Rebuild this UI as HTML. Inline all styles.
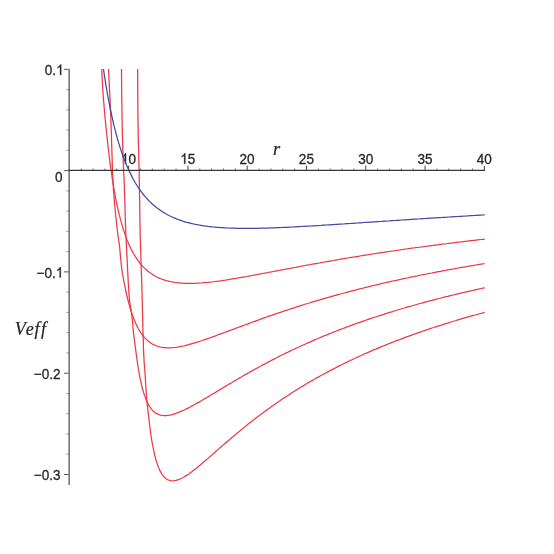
<!DOCTYPE html>
<html><head><meta charset="utf-8"><title>Veff</title>
<style>html,body{margin:0;padding:0;background:#fff;width:554px;height:554px;overflow:hidden}</style></head>
<body>
<svg width="554" height="554" viewBox="0 0 554 554" style="position:absolute;left:0;top:0;will-change:transform">
<rect width="554" height="554" fill="#fff"/>
<line x1="81.21" y1="170.4" x2="81.21" y2="168.5" stroke="#5a5a5a" stroke-width="0.9"/>
<line x1="93.06" y1="170.4" x2="93.06" y2="168.5" stroke="#5a5a5a" stroke-width="0.9"/>
<line x1="104.92" y1="170.4" x2="104.92" y2="168.5" stroke="#5a5a5a" stroke-width="0.9"/>
<line x1="116.78" y1="170.4" x2="116.78" y2="168.5" stroke="#5a5a5a" stroke-width="0.9"/>
<line x1="128.63" y1="170.4" x2="128.63" y2="165.70000000000002" stroke="#444" stroke-width="1"/>
<line x1="140.49" y1="170.4" x2="140.49" y2="168.5" stroke="#5a5a5a" stroke-width="0.9"/>
<line x1="152.35" y1="170.4" x2="152.35" y2="168.5" stroke="#5a5a5a" stroke-width="0.9"/>
<line x1="164.21" y1="170.4" x2="164.21" y2="168.5" stroke="#5a5a5a" stroke-width="0.9"/>
<line x1="176.06" y1="170.4" x2="176.06" y2="168.5" stroke="#5a5a5a" stroke-width="0.9"/>
<line x1="187.92" y1="170.4" x2="187.92" y2="165.70000000000002" stroke="#444" stroke-width="1"/>
<line x1="199.78" y1="170.4" x2="199.78" y2="168.5" stroke="#5a5a5a" stroke-width="0.9"/>
<line x1="211.63" y1="170.4" x2="211.63" y2="168.5" stroke="#5a5a5a" stroke-width="0.9"/>
<line x1="223.49" y1="170.4" x2="223.49" y2="168.5" stroke="#5a5a5a" stroke-width="0.9"/>
<line x1="235.35" y1="170.4" x2="235.35" y2="168.5" stroke="#5a5a5a" stroke-width="0.9"/>
<line x1="247.20" y1="170.4" x2="247.20" y2="165.70000000000002" stroke="#444" stroke-width="1"/>
<line x1="259.06" y1="170.4" x2="259.06" y2="168.5" stroke="#5a5a5a" stroke-width="0.9"/>
<line x1="270.92" y1="170.4" x2="270.92" y2="168.5" stroke="#5a5a5a" stroke-width="0.9"/>
<line x1="282.78" y1="170.4" x2="282.78" y2="168.5" stroke="#5a5a5a" stroke-width="0.9"/>
<line x1="294.63" y1="170.4" x2="294.63" y2="168.5" stroke="#5a5a5a" stroke-width="0.9"/>
<line x1="306.49" y1="170.4" x2="306.49" y2="165.70000000000002" stroke="#444" stroke-width="1"/>
<line x1="318.35" y1="170.4" x2="318.35" y2="168.5" stroke="#5a5a5a" stroke-width="0.9"/>
<line x1="330.20" y1="170.4" x2="330.20" y2="168.5" stroke="#5a5a5a" stroke-width="0.9"/>
<line x1="342.06" y1="170.4" x2="342.06" y2="168.5" stroke="#5a5a5a" stroke-width="0.9"/>
<line x1="353.92" y1="170.4" x2="353.92" y2="168.5" stroke="#5a5a5a" stroke-width="0.9"/>
<line x1="365.77" y1="170.4" x2="365.77" y2="165.70000000000002" stroke="#444" stroke-width="1"/>
<line x1="377.63" y1="170.4" x2="377.63" y2="168.5" stroke="#5a5a5a" stroke-width="0.9"/>
<line x1="389.49" y1="170.4" x2="389.49" y2="168.5" stroke="#5a5a5a" stroke-width="0.9"/>
<line x1="401.35" y1="170.4" x2="401.35" y2="168.5" stroke="#5a5a5a" stroke-width="0.9"/>
<line x1="413.20" y1="170.4" x2="413.20" y2="168.5" stroke="#5a5a5a" stroke-width="0.9"/>
<line x1="425.06" y1="170.4" x2="425.06" y2="165.70000000000002" stroke="#444" stroke-width="1"/>
<line x1="436.92" y1="170.4" x2="436.92" y2="168.5" stroke="#5a5a5a" stroke-width="0.9"/>
<line x1="448.77" y1="170.4" x2="448.77" y2="168.5" stroke="#5a5a5a" stroke-width="0.9"/>
<line x1="460.63" y1="170.4" x2="460.63" y2="168.5" stroke="#5a5a5a" stroke-width="0.9"/>
<line x1="472.49" y1="170.4" x2="472.49" y2="168.5" stroke="#5a5a5a" stroke-width="0.9"/>
<line x1="484.35" y1="170.4" x2="484.35" y2="165.70000000000002" stroke="#444" stroke-width="1"/>
<line x1="64" y1="69.30" x2="69" y2="69.30" stroke="#555" stroke-width="1"/>
<line x1="66.5" y1="89.56" x2="69" y2="89.56" stroke="#777" stroke-width="0.8"/>
<line x1="66.5" y1="109.82" x2="69" y2="109.82" stroke="#777" stroke-width="0.8"/>
<line x1="66.5" y1="130.08" x2="69" y2="130.08" stroke="#777" stroke-width="0.8"/>
<line x1="66.5" y1="150.34" x2="69" y2="150.34" stroke="#777" stroke-width="0.8"/>
<line x1="64" y1="170.60" x2="69" y2="170.60" stroke="#555" stroke-width="1"/>
<line x1="66.5" y1="190.86" x2="69" y2="190.86" stroke="#777" stroke-width="0.8"/>
<line x1="66.5" y1="211.12" x2="69" y2="211.12" stroke="#777" stroke-width="0.8"/>
<line x1="66.5" y1="231.38" x2="69" y2="231.38" stroke="#777" stroke-width="0.8"/>
<line x1="66.5" y1="251.64" x2="69" y2="251.64" stroke="#777" stroke-width="0.8"/>
<line x1="64" y1="271.90" x2="69" y2="271.90" stroke="#555" stroke-width="1"/>
<line x1="66.5" y1="292.16" x2="69" y2="292.16" stroke="#777" stroke-width="0.8"/>
<line x1="66.5" y1="312.42" x2="69" y2="312.42" stroke="#777" stroke-width="0.8"/>
<line x1="66.5" y1="332.68" x2="69" y2="332.68" stroke="#777" stroke-width="0.8"/>
<line x1="66.5" y1="352.94" x2="69" y2="352.94" stroke="#777" stroke-width="0.8"/>
<line x1="64" y1="373.20" x2="69" y2="373.20" stroke="#555" stroke-width="1"/>
<line x1="66.5" y1="393.46" x2="69" y2="393.46" stroke="#777" stroke-width="0.8"/>
<line x1="66.5" y1="413.72" x2="69" y2="413.72" stroke="#777" stroke-width="0.8"/>
<line x1="66.5" y1="433.98" x2="69" y2="433.98" stroke="#777" stroke-width="0.8"/>
<line x1="66.5" y1="454.24" x2="69" y2="454.24" stroke="#777" stroke-width="0.8"/>
<line x1="64" y1="474.50" x2="69" y2="474.50" stroke="#555" stroke-width="1"/>
<path transform="translate(120.99,163.80) scale(0.006630,-0.007129)" d="M763 0H583V1147Q518 1085 412.5 1023Q307 961 223 930V1104Q374 1175 487 1276Q600 1377 647 1472H763Z" fill="#262626" stroke="#262626" stroke-width="42"/>
<text transform="translate(128.53,163.80) scale(0.93,1)" style="font-family:'Liberation Sans',sans-serif;font-size:14.6px;fill:#262626;stroke:#262626;stroke-width:0.3px">0</text>
<path transform="translate(180.27,163.80) scale(0.006630,-0.007129)" d="M763 0H583V1147Q518 1085 412.5 1023Q307 961 223 930V1104Q374 1175 487 1276Q600 1377 647 1472H763Z" fill="#262626" stroke="#262626" stroke-width="42"/>
<text transform="translate(187.82,163.80) scale(0.93,1)" style="font-family:'Liberation Sans',sans-serif;font-size:14.6px;fill:#262626;stroke:#262626;stroke-width:0.3px">5</text>
<text transform="translate(239.56,163.80) scale(0.93,1)" style="font-family:'Liberation Sans',sans-serif;font-size:14.6px;fill:#262626;stroke:#262626;stroke-width:0.3px">20</text>
<text transform="translate(298.84,163.80) scale(0.93,1)" style="font-family:'Liberation Sans',sans-serif;font-size:14.6px;fill:#262626;stroke:#262626;stroke-width:0.3px">25</text>
<text transform="translate(358.13,163.80) scale(0.93,1)" style="font-family:'Liberation Sans',sans-serif;font-size:14.6px;fill:#262626;stroke:#262626;stroke-width:0.3px">30</text>
<text transform="translate(417.41,163.80) scale(0.93,1)" style="font-family:'Liberation Sans',sans-serif;font-size:14.6px;fill:#262626;stroke:#262626;stroke-width:0.3px">35</text>
<text transform="translate(476.70,163.80) scale(0.93,1)" style="font-family:'Liberation Sans',sans-serif;font-size:14.6px;fill:#262626;stroke:#262626;stroke-width:0.3px">40</text>
<text transform="translate(44.83,74.90) scale(0.93,1)" style="font-family:'Liberation Sans',sans-serif;font-size:14.6px;fill:#262626;stroke:#262626;stroke-width:0.3px">0.</text>
<path transform="translate(56.15,74.90) scale(0.006630,-0.007129)" d="M763 0H583V1147Q518 1085 412.5 1023Q307 961 223 930V1104Q374 1175 487 1276Q600 1377 647 1472H763Z" fill="#262626" stroke="#262626" stroke-width="42"/>
<text transform="translate(55.05,182.20) scale(0.93,1)" style="font-family:'Liberation Sans',sans-serif;font-size:14.6px;fill:#262626;stroke:#262626;stroke-width:0.3px">0</text>
<text transform="translate(36.50,277.60) scale(0.93,1)" style="font-family:'Liberation Sans',sans-serif;font-size:14.6px;fill:#262626;stroke:#262626;stroke-width:0.3px">−0.</text>
<path transform="translate(55.75,277.60) scale(0.006630,-0.007129)" d="M763 0H583V1147Q518 1085 412.5 1023Q307 961 223 930V1104Q374 1175 487 1276Q600 1377 647 1472H763Z" fill="#262626" stroke="#262626" stroke-width="42"/>
<text transform="translate(33.80,379.40) scale(0.93,1)" style="font-family:'Liberation Sans',sans-serif;font-size:14.6px;fill:#262626;stroke:#262626;stroke-width:0.3px">−0.2</text>
<text transform="translate(33.80,480.20) scale(0.93,1)" style="font-family:'Liberation Sans',sans-serif;font-size:14.6px;fill:#262626;stroke:#262626;stroke-width:0.3px">−0.3</text>
<text x="273.1" y="154.6" style="font-family:'Liberation Serif',serif;font-style:italic;fill:#262626;font-kerning:none;stroke:#262626;stroke-width:0.2px;font-size:18.5px">r</text>
<text transform="translate(14.8,334.6) scale(0.93,1)" style="font-family:'Liberation Serif',serif;font-style:italic;fill:#262626;font-kerning:none;stroke:#262626;stroke-width:0.2px;font-size:19.5px">Ve<tspan dx="0.7">f</tspan><tspan dx="1.4">f</tspan></text>
<path d="M101.7,69.0 L101.8,71.0 L101.9,73.0 L102.0,75.0 L102.1,77.0 L102.2,79.0 L102.3,81.0 L102.4,83.0 L102.5,85.0 L102.6,87.0 L102.8,89.0 L102.9,91.0 L103.0,93.0 L103.2,95.0 L103.3,97.0 L103.5,99.0 L103.6,101.0 L103.8,103.0 L104.0,105.0 L104.1,107.0 L104.3,109.0 L104.5,111.0 L104.7,113.0 L104.8,115.0 L105.0,117.0 L105.2,119.0 L105.4,121.0 L105.6,123.0 L105.8,125.0 L106.0,127.0 L106.2,129.0 L106.4,131.0 L106.6,133.0 L106.8,135.0 L107.1,137.0 L107.3,139.0 L107.5,141.0 L107.7,143.0 L107.9,145.0 L108.1,147.0 L108.4,149.0 L108.5,150.0 L108.7,151.8 L108.9,153.5 L109.1,155.3 L109.3,157.1 L109.6,158.9 L109.8,160.6 L110.0,162.4 L110.2,164.2 L110.5,165.9 L110.7,167.7 L111.0,169.5 L111.2,171.2 L111.5,173.0 L111.7,174.8 L112.0,176.5 L112.2,178.3 L112.5,180.1 L112.8,181.8 L113.1,183.6 L113.4,185.3 L113.7,187.1 L114.0,188.9 L114.3,190.6 L114.6,192.4 L114.9,194.1 L115.2,195.9 L115.5,197.6 L115.9,199.4 L116.2,201.1 L116.6,202.9 L117.0,204.6 L117.3,206.3 L117.7,208.1 L118.1,209.8 L118.5,211.5 L118.9,213.3 L119.3,215.0 L119.8,216.7 L120.2,218.4 L120.7,220.2 L121.1,221.9 L121.6,223.6 L122.1,225.3 L122.6,227.0 L123.1,228.7 L123.7,230.4 L124.2,232.1 L124.8,233.7 L125.4,235.4 L126.0,237.1 L126.6,238.7 L127.2,240.4 L127.9,242.0 L128.6,243.7 L129.3,245.3 L130.1,246.9 L130.8,248.5 L131.6,250.1 L132.4,251.6 L133.3,253.2 L134.2,254.7 L135.1,256.2 L136.0,257.7 L137.0,259.2 L138.0,260.6 L139.1,262.0 L140.2,263.4 L141.3,264.8 L142.5,266.1 L143.7,267.4 L145.0,268.6 L146.3,269.8 L147.6,271.0 L149.0,272.1 L150.4,273.1 L151.9,274.1 L153.4,275.1 L155.0,276.0 L156.5,276.8 L158.1,277.6 L159.8,278.3 L161.4,279.0 L163.1,279.6 L164.8,280.2 L166.5,280.7 L168.3,281.1 L170.0,281.5 L171.8,281.9 L173.5,282.2 L175.3,282.5 L177.1,282.7 L178.9,282.9 L180.7,283.1 L182.5,283.2 L184.3,283.3 L186.1,283.3 L187.9,283.4 L189.7,283.4 L191.5,283.4 L193.3,283.3 L195.1,283.3 L196.9,283.2 L198.6,283.1 L200.4,283.0 L202.2,282.9 L204.0,282.7 L205.8,282.5 L207.6,282.4 L209.4,282.2 L211.2,282.0 L213.0,281.8 L214.8,281.5 L216.6,281.3 L218.3,281.1 L220.1,280.8 L221.9,280.6 L223.7,280.3 L225.5,280.1 L227.3,279.8 L229.0,279.5 L230.8,279.2 L232.6,278.9 L234.4,278.6 L236.1,278.3 L237.9,278.0 L239.7,277.7 L241.5,277.4 L243.2,277.1 L245.0,276.8 L246.8,276.5 L248.6,276.1 L250.3,275.8 L252.1,275.5 L253.9,275.2 L255.6,274.8 L257.4,274.5 L259.2,274.2 L260.9,273.9 L262.7,273.5 L264.5,273.2 L266.2,272.9 L268.0,272.5 L269.8,272.2 L271.6,271.9 L273.3,271.5 L275.1,271.2 L276.9,270.8 L278.6,270.5 L280.4,270.2 L282.2,269.8 L283.9,269.5 L285.7,269.2 L287.5,268.8 L289.2,268.5 L291.0,268.2 L292.8,267.8 L294.5,267.5 L296.3,267.2 L298.1,266.8 L299.9,266.5 L301.6,266.2 L303.4,265.9 L305.2,265.5 L306.9,265.2 L308.7,264.9 L310.5,264.6 L312.2,264.2 L314.0,263.9 L315.8,263.6 L317.6,263.3 L319.3,263.0 L321.1,262.6 L322.9,262.3 L324.6,262.0 L326.4,261.7 L328.2,261.4 L330.0,261.1 L331.7,260.8 L333.5,260.5 L335.3,260.1 L337.1,259.8 L338.8,259.5 L340.6,259.2 L342.4,258.9 L344.2,258.6 L345.9,258.3 L347.7,258.0 L349.5,257.7 L351.3,257.4 L353.0,257.1 L354.8,256.9 L356.6,256.6 L358.4,256.3 L360.1,256.0 L361.9,255.7 L363.7,255.4 L365.5,255.1 L367.2,254.8 L369.0,254.6 L370.8,254.3 L372.6,254.0 L374.4,253.7 L376.1,253.5 L377.9,253.2 L379.7,252.9 L381.5,252.6 L383.3,252.4 L385.0,252.1 L386.8,251.8 L388.6,251.6 L390.4,251.3 L392.2,251.0 L393.9,250.8 L395.7,250.5 L397.5,250.3 L399.3,250.0 L401.1,249.7 L402.8,249.5 L404.6,249.2 L406.4,249.0 L408.2,248.7 L410.0,248.5 L411.8,248.2 L413.5,248.0 L415.3,247.7 L417.1,247.5 L418.9,247.3 L420.7,247.0 L422.5,246.8 L424.2,246.5 L426.0,246.3 L427.8,246.1 L429.6,245.8 L431.4,245.6 L433.2,245.4 L434.9,245.1 L436.7,244.9 L438.5,244.7 L440.3,244.4 L442.1,244.2 L443.9,244.0 L445.7,243.8 L447.4,243.5 L449.2,243.3 L451.0,243.1 L452.8,242.9 L454.6,242.6 L456.4,242.4 L458.2,242.2 L460.0,242.0 L461.7,241.8 L463.5,241.6 L465.3,241.4 L467.1,241.2 L468.9,240.9 L470.7,240.7 L472.5,240.5 L474.3,240.3 L476.0,240.1 L477.8,239.9 L479.6,239.7 L481.4,239.5 L483.2,239.3 L484.7,239.1" fill="none" stroke="#ec3846" stroke-width="1.25" stroke-linejoin="round"/>
<path d="M108.5,69.0 L108.6,71.0 L108.7,73.0 L108.8,75.0 L108.9,77.0 L109.0,79.0 L109.1,81.0 L109.2,83.0 L109.3,85.0 L109.4,87.0 L109.5,89.0 L109.6,91.0 L109.7,93.0 L109.8,95.0 L109.9,97.0 L110.0,99.0 L110.1,101.0 L110.2,103.0 L110.3,105.0 L110.4,107.0 L110.5,109.0 L110.5,111.0 L110.6,113.0 L110.7,115.0 L110.8,117.0 L110.9,119.0 L110.9,121.0 L111.0,123.0 L111.1,125.0 L111.1,127.0 L111.2,129.0 L111.3,131.0 L111.3,133.0 L111.4,135.0 L111.5,137.0 L111.5,139.0 L111.6,141.0 L111.6,143.0 L111.7,145.0 L111.8,147.0 L111.8,149.0 L111.9,151.0 L111.9,153.0 L112.0,155.0 L112.1,157.0 L112.1,159.0 L112.2,161.0 L112.2,163.0 L112.3,165.0 L112.4,167.0 L112.4,169.0 L112.5,171.0 L112.6,173.0 L112.7,175.0 L112.8,177.0 L112.8,179.0 L113.0,181.0 L113.1,183.0 L113.2,185.0 L113.3,187.0 L113.4,189.0 L113.6,191.0 L113.7,193.0 L113.9,195.0 L114.0,197.0 L114.2,199.0 L114.4,201.0 L114.5,203.0 L114.7,205.0 L114.9,207.0 L115.1,209.0 L115.3,211.0 L115.5,213.0 L115.7,215.0 L115.9,217.0 L116.1,219.0 L116.3,221.0 L116.5,223.0 L116.7,225.0 L117.0,227.0 L117.2,229.0 L117.4,231.0 L117.7,233.0 L117.9,235.0 L118.2,237.0 L118.5,239.0 L118.8,241.0 L119.1,243.0 L119.4,245.0 L119.6,247.0 L119.8,249.0 L120.0,251.0 L120.2,253.0 L120.3,255.0 L120.5,257.0 L120.7,259.0 L120.9,261.0 L121.1,263.0 L121.3,265.0 L121.6,267.0 L121.8,269.0 L122.1,271.0 L122.4,273.0 L122.7,275.0 L123.1,277.0 L123.4,279.0 L123.8,281.0 L124.2,283.0 L124.6,285.0 L125.0,287.0 L125.4,289.0 L125.8,291.0 L126.3,293.0 L126.7,295.0 L127.2,297.0 L127.7,299.0 L127.9,300.0 L128.4,301.7 L128.8,303.4 L129.3,305.1 L129.8,306.8 L130.3,308.5 L130.8,310.2 L131.4,311.9 L131.9,313.6 L132.5,315.3 L133.1,316.9 L133.7,318.6 L134.4,320.2 L135.1,321.8 L135.8,323.4 L136.5,325.0 L137.3,326.6 L138.1,328.2 L139.0,329.7 L139.9,331.2 L140.8,332.7 L141.8,334.1 L142.9,335.5 L144.0,336.9 L145.1,338.2 L146.4,339.4 L147.7,340.6 L149.0,341.7 L150.4,342.8 L151.9,343.7 L153.5,344.6 L155.1,345.3 L156.7,346.0 L158.4,346.5 L160.2,347.0 L161.9,347.3 L163.7,347.6 L165.5,347.7 L167.3,347.8 L169.1,347.8 L170.9,347.8 L172.7,347.7 L174.5,347.5 L176.3,347.3 L178.0,347.0 L179.8,346.7 L181.6,346.3 L183.3,346.0 L185.1,345.6 L186.9,345.1 L188.6,344.7 L190.3,344.2 L192.1,343.7 L193.8,343.2 L195.5,342.7 L197.2,342.1 L199.0,341.6 L200.7,341.0 L202.4,340.5 L204.1,339.9 L205.8,339.3 L207.5,338.7 L209.2,338.1 L210.9,337.5 L212.6,336.9 L214.3,336.3 L216.0,335.7 L217.7,335.0 L219.4,334.4 L221.0,333.8 L222.7,333.2 L224.4,332.5 L226.1,331.9 L227.8,331.3 L229.5,330.7 L231.2,330.0 L232.8,329.4 L234.5,328.8 L236.2,328.1 L237.9,327.5 L239.6,326.9 L241.3,326.3 L243.0,325.6 L244.7,325.0 L246.3,324.4 L248.0,323.8 L249.7,323.1 L251.4,322.5 L253.1,321.9 L254.8,321.3 L256.5,320.7 L258.2,320.1 L259.9,319.4 L261.6,318.8 L263.3,318.2 L265.0,317.6 L266.7,317.0 L268.3,316.4 L270.0,315.8 L271.7,315.3 L273.4,314.7 L275.1,314.1 L276.9,313.5 L278.6,312.9 L280.3,312.3 L282.0,311.8 L283.7,311.2 L285.4,310.6 L287.1,310.1 L288.8,309.5 L290.5,308.9 L292.2,308.4 L293.9,307.8 L295.6,307.3 L297.4,306.7 L299.1,306.2 L300.8,305.6 L302.5,305.1 L304.2,304.5 L305.9,304.0 L307.7,303.5 L309.4,303.0 L311.1,302.4 L312.8,301.9 L314.5,301.4 L316.3,300.9 L318.0,300.4 L319.7,299.9 L321.4,299.3 L323.2,298.8 L324.9,298.3 L326.6,297.8 L328.4,297.4 L330.1,296.9 L331.8,296.4 L333.6,295.9 L335.3,295.4 L337.0,294.9 L338.8,294.4 L340.5,294.0 L342.2,293.5 L344.0,293.0 L345.7,292.6 L347.4,292.1 L349.2,291.6 L350.9,291.2 L352.7,290.7 L354.4,290.3 L356.2,289.8 L357.9,289.4 L359.6,288.9 L361.4,288.5 L363.1,288.1 L364.9,287.6 L366.6,287.2 L368.4,286.8 L370.1,286.3 L371.9,285.9 L373.6,285.5 L375.4,285.1 L377.1,284.7 L378.9,284.3 L380.6,283.8 L382.4,283.4 L384.1,283.0 L385.9,282.6 L387.6,282.2 L389.4,281.8 L391.2,281.4 L392.9,281.0 L394.7,280.6 L396.4,280.3 L398.2,279.9 L399.9,279.5 L401.7,279.1 L403.5,278.7 L405.2,278.3 L407.0,278.0 L408.7,277.6 L410.5,277.2 L412.3,276.9 L414.0,276.5 L415.8,276.1 L417.5,275.8 L419.3,275.4 L421.1,275.0 L422.8,274.7 L424.6,274.3 L426.4,274.0 L428.1,273.6 L429.9,273.3 L431.7,273.0 L433.4,272.6 L435.2,272.3 L437.0,271.9 L438.7,271.6 L440.5,271.3 L442.3,270.9 L444.0,270.6 L445.8,270.3 L447.6,269.9 L449.4,269.6 L451.1,269.3 L452.9,269.0 L454.7,268.7 L456.4,268.3 L458.2,268.0 L460.0,267.7 L461.8,267.4 L463.5,267.1 L465.3,266.8 L467.1,266.5 L468.9,266.2 L470.6,265.9 L472.4,265.6 L474.2,265.3 L476.0,265.0 L477.7,264.7 L479.5,264.4 L481.3,264.1 L483.1,263.8 L484.7,263.5" fill="none" stroke="#ec3846" stroke-width="1.25" stroke-linejoin="round"/>
<path d="M121.5,69.0 L121.5,71.0 L121.5,73.0 L121.5,75.0 L121.5,77.0 L121.6,79.0 L121.6,81.0 L121.6,83.0 L121.6,85.0 L121.6,87.0 L121.6,89.0 L121.7,91.0 L121.7,93.0 L121.7,95.0 L121.7,97.0 L121.8,99.0 L121.8,101.0 L121.8,103.0 L121.9,105.0 L121.9,107.0 L121.9,109.0 L122.0,111.0 L122.0,113.0 L122.0,115.0 L122.0,117.0 L122.1,119.0 L122.1,121.0 L122.2,123.0 L122.2,125.0 L122.2,127.0 L122.3,129.0 L122.3,131.0 L122.4,133.0 L122.4,135.0 L122.5,137.0 L122.5,139.0 L122.6,141.0 L122.6,143.0 L122.7,145.0 L122.8,147.0 L122.8,149.0 L122.9,151.0 L123.0,153.0 L123.0,155.0 L123.1,157.0 L123.2,159.0 L123.2,161.0 L123.3,163.0 L123.4,165.0 L123.5,167.0 L123.5,169.0 L123.6,171.0 L123.7,173.0 L123.8,175.0 L124.0,177.0 L124.1,179.0 L124.1,181.0 L124.2,183.0 L124.3,185.0 L124.4,187.0 L124.4,189.0 L124.5,191.0 L124.6,193.0 L124.6,195.0 L124.7,197.0 L124.8,199.0 L124.8,201.0 L124.9,203.0 L124.9,205.0 L125.0,207.0 L125.0,209.0 L125.1,211.0 L125.1,213.0 L125.2,215.0 L125.3,217.0 L125.3,219.0 L125.4,221.0 L125.4,223.0 L125.5,225.0 L125.6,227.0 L125.7,229.0 L125.7,231.0 L125.8,233.0 L125.9,235.0 L126.0,237.0 L126.1,239.0 L126.2,241.0 L126.3,243.0 L126.4,245.0 L126.5,247.0 L126.6,249.0 L126.7,251.0 L126.8,253.0 L126.9,255.0 L127.0,257.0 L127.1,259.0 L127.2,261.0 L127.3,263.0 L127.4,265.0 L127.5,267.0 L127.6,269.0 L127.7,271.0 L127.8,273.0 L127.9,275.0 L128.0,277.0 L128.1,279.0 L128.2,281.0 L128.3,283.0 L128.5,285.0 L128.6,287.0 L128.7,289.0 L128.8,291.0 L128.9,293.0 L129.1,295.0 L129.2,297.0 L129.4,299.0 L129.6,301.0 L129.9,303.0 L130.2,305.0 L130.5,307.0 L130.9,309.0 L131.2,311.0 L131.5,313.0 L131.8,315.0 L132.0,317.0 L132.2,319.0 L132.4,321.0 L132.6,323.0 L132.8,325.0 L132.9,327.0 L133.1,329.0 L133.3,331.0 L133.5,333.0 L133.8,335.0 L134.0,337.0 L134.3,339.0 L134.5,341.0 L134.8,343.0 L135.0,345.0 L135.3,347.0 L135.6,349.0 L135.8,351.0 L136.1,353.0 L136.4,355.0 L136.7,357.0 L136.9,359.0 L137.2,361.0 L137.5,363.0 L137.8,365.0 L138.1,367.0 L138.4,369.0 L138.8,371.0 L138.9,372.0 L139.2,373.7 L139.5,375.5 L139.9,377.2 L140.2,378.9 L140.6,380.7 L141.0,382.4 L141.3,384.1 L141.7,385.8 L142.2,387.5 L142.6,389.2 L143.1,390.9 L143.6,392.6 L144.1,394.3 L144.7,395.9 L145.3,397.6 L145.9,399.2 L146.6,400.8 L147.3,402.4 L148.1,403.9 L148.9,405.4 L149.8,406.9 L150.8,408.3 L151.9,409.6 L153.1,410.9 L154.4,412.0 L155.8,413.1 L157.3,413.9 L158.9,414.6 L160.6,415.1 L162.3,415.5 L164.1,415.6 L165.9,415.6 L167.7,415.4 L169.5,415.2 L171.2,414.8 L173.0,414.3 L174.7,413.8 L176.4,413.2 L178.1,412.6 L179.8,411.9 L181.5,411.2 L183.1,410.5 L184.8,409.7 L186.4,408.9 L188.0,408.1 L189.6,407.3 L191.2,406.4 L192.8,405.6 L194.4,404.7 L195.9,403.8 L197.5,402.9 L199.1,402.1 L200.6,401.2 L202.2,400.2 L203.8,399.3 L205.3,398.4 L206.9,397.5 L208.4,396.6 L209.9,395.7 L211.5,394.7 L213.0,393.8 L214.6,392.9 L216.1,391.9 L217.7,391.0 L219.2,390.1 L220.7,389.2 L222.3,388.2 L223.8,387.3 L225.4,386.4 L226.9,385.5 L228.5,384.5 L230.0,383.6 L231.6,382.7 L233.1,381.8 L234.6,380.9 L236.2,380.0 L237.8,379.0 L239.3,378.1 L240.9,377.2 L242.4,376.3 L244.0,375.4 L245.5,374.5 L247.1,373.6 L248.7,372.8 L250.2,371.9 L251.8,371.0 L253.4,370.1 L254.9,369.2 L256.5,368.4 L258.1,367.5 L259.7,366.7 L261.3,365.8 L262.8,364.9 L264.4,364.1 L266.0,363.3 L267.6,362.4 L269.2,361.6 L270.8,360.7 L272.4,359.9 L274.0,359.1 L275.6,358.3 L277.2,357.5 L278.8,356.6 L280.4,355.8 L282.0,355.0 L283.6,354.2 L285.2,353.4 L286.9,352.7 L288.5,351.9 L290.1,351.1 L291.7,350.3 L293.3,349.5 L295.0,348.8 L296.6,348.0 L298.2,347.3 L299.9,346.5 L301.5,345.8 L303.1,345.0 L304.8,344.3 L306.4,343.5 L308.1,342.8 L309.7,342.1 L311.4,341.4 L313.0,340.6 L314.7,339.9 L316.3,339.2 L318.0,338.5 L319.6,337.8 L321.3,337.1 L322.9,336.4 L324.6,335.7 L326.3,335.1 L327.9,334.4 L329.6,333.7 L331.3,333.0 L333.0,332.4 L334.6,331.7 L336.3,331.0 L338.0,330.4 L339.7,329.7 L341.3,329.1 L343.0,328.5 L344.7,327.8 L346.4,327.2 L348.1,326.6 L349.8,325.9 L351.4,325.3 L353.1,324.7 L354.8,324.1 L356.5,323.5 L358.2,322.9 L359.9,322.3 L361.6,321.7 L363.3,321.1 L365.0,320.5 L366.7,319.9 L368.4,319.3 L370.1,318.7 L371.8,318.2 L373.5,317.6 L375.2,317.0 L376.9,316.5 L378.7,315.9 L380.4,315.4 L382.1,314.8 L383.8,314.3 L385.5,313.7 L387.2,313.2 L388.9,312.6 L390.7,312.1 L392.4,311.6 L394.1,311.0 L395.8,310.5 L397.5,310.0 L399.3,309.5 L401.0,309.0 L402.7,308.5 L404.4,308.0 L406.2,307.4 L407.9,306.9 L409.6,306.4 L411.4,306.0 L413.1,305.5 L414.8,305.0 L416.6,304.5 L418.3,304.0 L420.0,303.5 L421.8,303.1 L423.5,302.6 L425.2,302.1 L427.0,301.6 L428.7,301.2 L430.4,300.7 L432.2,300.3 L433.9,299.8 L435.7,299.4 L437.4,298.9 L439.2,298.5 L440.9,298.0 L442.6,297.6 L444.4,297.1 L446.1,296.7 L447.9,296.3 L449.6,295.8 L451.4,295.4 L453.1,295.0 L454.9,294.6 L456.6,294.1 L458.4,293.7 L460.1,293.3 L461.9,292.9 L463.6,292.5 L465.4,292.1 L467.1,291.7 L468.9,291.3 L470.7,290.9 L472.4,290.5 L474.2,290.1 L475.9,289.7 L477.7,289.3 L479.4,288.9 L481.2,288.5 L482.9,288.1 L484.7,287.8" fill="none" stroke="#ec3846" stroke-width="1.25" stroke-linejoin="round"/>
<path d="M137.7,69.0 L137.7,71.0 L137.7,73.0 L137.7,75.0 L137.7,77.0 L137.7,79.0 L137.7,81.0 L137.7,83.0 L137.7,85.0 L137.7,87.0 L137.7,89.0 L137.7,91.0 L137.7,93.0 L137.8,95.0 L137.8,97.0 L137.8,99.0 L137.8,101.0 L137.8,103.0 L137.8,105.0 L137.9,107.0 L137.9,109.0 L137.9,111.0 L137.9,113.0 L137.9,115.0 L138.0,117.0 L138.0,119.0 L138.0,121.0 L138.0,123.0 L138.1,125.0 L138.1,127.0 L138.1,129.0 L138.2,131.0 L138.2,133.0 L138.2,135.0 L138.3,137.0 L138.3,139.0 L138.4,141.0 L138.4,143.0 L138.5,145.0 L138.5,147.0 L138.6,149.0 L138.6,151.0 L138.7,153.0 L138.7,155.0 L138.8,157.0 L138.8,159.0 L138.9,161.0 L138.9,163.0 L139.0,165.0 L139.0,167.0 L139.1,169.0 L139.1,171.0 L139.2,173.0 L139.2,175.0 L139.2,177.0 L139.3,179.0 L139.3,181.0 L139.4,183.0 L139.4,185.0 L139.4,187.0 L139.5,189.0 L139.5,191.0 L139.5,193.0 L139.5,195.0 L139.6,197.0 L139.6,199.0 L139.6,201.0 L139.7,203.0 L139.7,205.0 L139.7,207.0 L139.7,209.0 L139.8,211.0 L139.8,213.0 L139.8,215.0 L139.9,217.0 L139.9,219.0 L139.9,221.0 L140.0,223.0 L140.0,225.0 L140.0,227.0 L140.1,229.0 L140.1,231.0 L140.2,233.0 L140.2,235.0 L140.3,237.0 L140.3,239.0 L140.4,241.0 L140.4,243.0 L140.5,245.0 L140.5,247.0 L140.6,249.0 L140.7,251.0 L140.7,253.0 L140.8,255.0 L140.8,257.0 L140.9,259.0 L141.0,261.0 L141.0,263.0 L141.1,265.0 L141.2,267.0 L141.2,269.0 L141.3,271.0 L141.4,273.0 L141.5,275.0 L141.5,277.0 L141.6,279.0 L141.7,281.0 L141.8,283.0 L141.8,285.0 L141.9,287.0 L141.9,289.0 L142.0,291.0 L142.0,293.0 L142.1,295.0 L142.1,297.0 L142.2,299.0 L142.2,301.0 L142.3,303.0 L142.3,305.0 L142.4,307.0 L142.4,309.0 L142.5,311.0 L142.5,313.0 L142.5,315.0 L142.6,317.0 L142.6,319.0 L142.7,321.0 L142.7,323.0 L142.8,325.0 L142.8,327.0 L142.9,329.0 L143.0,331.0 L143.0,333.0 L143.1,335.0 L143.1,337.0 L143.2,339.0 L143.3,341.0 L143.3,343.0 L143.4,345.0 L143.4,347.0 L143.5,349.0 L143.6,351.0 L143.7,353.0 L143.8,355.0 L143.9,357.0 L144.0,359.0 L144.1,361.0 L144.2,363.0 L144.4,365.0 L144.6,367.0 L144.7,369.0 L144.9,371.0 L145.0,373.0 L145.1,375.0 L145.3,377.0 L145.4,379.0 L145.5,381.0 L145.6,383.0 L145.7,385.0 L145.9,387.0 L146.0,389.0 L146.1,391.0 L146.2,393.0 L146.4,395.0 L146.6,397.0 L146.7,399.0 L146.9,401.0 L147.1,403.0 L147.3,405.0 L147.5,407.0 L147.8,409.0 L148.0,411.0 L148.2,413.0 L148.4,415.0 L148.7,417.0 L148.9,419.0 L149.1,421.0 L149.4,423.0 L149.6,425.0 L149.9,427.0 L150.1,429.0 L150.4,431.0 L150.7,433.0 L150.9,435.0 L151.2,437.0 L151.6,439.0 L151.7,440.0 L152.0,441.7 L152.3,443.5 L152.6,445.2 L153.0,447.0 L153.3,448.7 L153.7,450.4 L154.0,452.1 L154.4,453.8 L154.8,455.5 L155.3,457.2 L155.7,458.9 L156.2,460.6 L156.7,462.3 L157.3,463.9 L157.8,465.6 L158.4,467.2 L159.1,468.8 L159.8,470.4 L160.6,471.9 L161.5,473.4 L162.4,474.8 L163.5,476.2 L164.6,477.4 L165.9,478.5 L167.3,479.5 L168.9,480.2 L170.6,480.6 L172.4,480.8 L174.2,480.7 L176.0,480.4 L177.7,479.9 L179.4,479.3 L181.1,478.5 L182.7,477.7 L184.3,476.8 L185.8,475.9 L187.4,474.9 L188.9,473.9 L190.3,472.8 L191.8,471.7 L193.2,470.6 L194.7,469.5 L196.1,468.4 L197.5,467.3 L198.9,466.1 L200.3,465.0 L201.6,463.8 L203.0,462.6 L204.4,461.5 L205.8,460.3 L207.1,459.1 L208.5,457.9 L209.8,456.7 L211.2,455.6 L212.5,454.4 L213.9,453.2 L215.2,452.0 L216.6,450.8 L217.9,449.6 L219.3,448.4 L220.7,447.2 L222.0,446.1 L223.4,444.9 L224.7,443.7 L226.1,442.5 L227.4,441.4 L228.8,440.2 L230.2,439.0 L231.5,437.8 L232.9,436.7 L234.3,435.5 L235.7,434.4 L237.0,433.2 L238.4,432.1 L239.8,430.9 L241.2,429.8 L242.6,428.6 L244.0,427.5 L245.4,426.4 L246.8,425.2 L248.2,424.1 L249.6,423.0 L251.0,421.9 L252.4,420.8 L253.9,419.7 L255.3,418.6 L256.7,417.5 L258.1,416.4 L259.6,415.3 L261.0,414.2 L262.4,413.2 L263.9,412.1 L265.3,411.0 L266.8,410.0 L268.2,408.9 L269.7,407.9 L271.2,406.8 L272.6,405.8 L274.1,404.7 L275.6,403.7 L277.1,402.7 L278.5,401.7 L280.0,400.7 L281.5,399.6 L283.0,398.6 L284.5,397.6 L286.0,396.7 L287.5,395.7 L289.0,394.7 L290.5,393.7 L292.0,392.7 L293.5,391.8 L295.1,390.8 L296.6,389.9 L298.1,388.9 L299.6,388.0 L301.2,387.0 L302.7,386.1 L304.3,385.2 L305.8,384.2 L307.3,383.3 L308.9,382.4 L310.5,381.5 L312.0,380.6 L313.6,379.7 L315.1,378.8 L316.7,377.9 L318.3,377.1 L319.8,376.2 L321.4,375.3 L323.0,374.5 L324.6,373.6 L326.2,372.7 L327.7,371.9 L329.3,371.1 L330.9,370.2 L332.5,369.4 L334.1,368.6 L335.7,367.7 L337.3,366.9 L338.9,366.1 L340.5,365.3 L342.1,364.5 L343.7,363.7 L345.4,362.9 L347.0,362.1 L348.6,361.3 L350.2,360.6 L351.9,359.8 L353.5,359.0 L355.1,358.3 L356.7,357.5 L358.4,356.8 L360.0,356.0 L361.6,355.3 L363.3,354.5 L364.9,353.8 L366.6,353.1 L368.2,352.4 L369.9,351.6 L371.5,350.9 L373.2,350.2 L374.8,349.5 L376.5,348.8 L378.1,348.1 L379.8,347.4 L381.5,346.7 L383.1,346.0 L384.8,345.4 L386.5,344.7 L388.1,344.0 L389.8,343.4 L391.5,342.7 L393.2,342.0 L394.8,341.4 L396.5,340.7 L398.2,340.1 L399.9,339.5 L401.6,338.8 L403.2,338.2 L404.9,337.6 L406.6,336.9 L408.3,336.3 L410.0,335.7 L411.7,335.1 L413.4,334.5 L415.1,333.9 L416.8,333.3 L418.5,332.7 L420.2,332.1 L421.9,331.5 L423.6,330.9 L425.3,330.3 L427.0,329.7 L428.7,329.2 L430.4,328.6 L432.1,328.0 L433.8,327.5 L435.5,326.9 L437.2,326.4 L438.9,325.8 L440.7,325.3 L442.4,324.7 L444.1,324.2 L445.8,323.6 L447.5,323.1 L449.2,322.6 L451.0,322.0 L452.7,321.5 L454.4,321.0 L456.1,320.5 L457.8,319.9 L459.6,319.4 L461.3,318.9 L463.0,318.4 L464.8,317.9 L466.5,317.4 L468.2,316.9 L469.9,316.4 L471.7,315.9 L473.4,315.4 L475.1,315.0 L476.9,314.5 L478.6,314.0 L480.3,313.5 L482.1,313.1 L483.8,312.6 L484.7,312.3" fill="none" stroke="#ec3846" stroke-width="1.25" stroke-linejoin="round"/>
<path d="M103.5,69.0 L103.7,70.8 L104.0,72.5 L104.2,74.3 L104.5,76.1 L104.8,77.8 L105.1,79.6 L105.3,81.4 L105.6,83.1 L105.9,84.9 L106.2,86.7 L106.5,88.4 L106.8,90.2 L107.1,91.9 L107.4,93.7 L107.7,95.5 L108.0,97.2 L108.4,99.0 L108.7,100.7 L109.0,102.5 L109.4,104.2 L109.7,106.0 L110.1,107.7 L110.4,109.5 L110.8,111.2 L111.2,113.0 L111.5,114.7 L111.9,116.5 L112.3,118.2 L112.7,120.0 L113.1,121.7 L113.5,123.4 L113.9,125.2 L114.3,126.9 L114.8,128.6 L115.2,130.4 L115.7,132.1 L116.1,133.8 L116.6,135.5 L117.1,137.2 L117.5,139.0 L118.0,140.7 L118.5,142.4 L119.1,144.1 L119.6,145.8 L120.1,147.5 L120.7,149.2 L121.2,150.9 L121.8,152.6 L122.4,154.2 L123.0,155.9 L123.6,157.6 L124.2,159.3 L124.9,160.9 L125.5,162.6 L126.2,164.2 L126.9,165.9 L127.6,167.5 L128.3,169.1 L129.0,170.7 L129.8,172.3 L130.6,173.9 L131.4,175.5 L132.2,177.1 L133.0,178.7 L133.9,180.2 L134.7,181.8 L135.6,183.3 L136.6,184.8 L137.5,186.3 L138.5,187.8 L139.5,189.3 L140.5,190.7 L141.6,192.2 L142.7,193.6 L143.8,195.0 L144.9,196.3 L146.1,197.7 L147.3,199.0 L148.5,200.3 L149.7,201.6 L151.0,202.8 L152.3,204.0 L153.6,205.2 L155.0,206.3 L156.4,207.5 L157.8,208.5 L159.3,209.6 L160.7,210.6 L162.2,211.6 L163.7,212.5 L165.3,213.5 L166.8,214.3 L168.4,215.2 L170.0,216.0 L171.6,216.8 L173.2,217.5 L174.9,218.2 L176.5,218.9 L178.2,219.5 L179.9,220.1 L181.6,220.7 L183.3,221.3 L185.0,221.8 L186.8,222.3 L188.5,222.7 L190.2,223.2 L192.0,223.6 L193.7,224.0 L195.5,224.4 L197.3,224.7 L199.0,225.0 L200.8,225.3 L202.6,225.6 L204.4,225.9 L206.1,226.1 L207.9,226.4 L209.7,226.6 L211.5,226.8 L213.3,227.0 L215.1,227.1 L216.9,227.3 L218.7,227.4 L220.5,227.6 L222.3,227.7 L224.1,227.8 L225.8,227.9 L227.6,228.0 L229.4,228.1 L231.2,228.1 L233.0,228.2 L234.8,228.2 L236.6,228.3 L238.4,228.3 L240.2,228.3 L242.0,228.4 L243.8,228.4 L245.6,228.4 L247.4,228.4 L249.2,228.4 L251.0,228.4 L252.8,228.3 L254.6,228.3 L256.4,228.3 L258.2,228.3 L260.0,228.2 L261.8,228.2 L263.6,228.1 L265.4,228.1 L267.2,228.0 L269.0,228.0 L270.8,227.9 L272.6,227.9 L274.4,227.8 L276.2,227.7 L278.0,227.7 L279.8,227.6 L281.6,227.5 L283.4,227.4 L285.2,227.3 L287.0,227.3 L288.8,227.2 L290.6,227.1 L292.4,227.0 L294.2,226.9 L296.0,226.8 L297.8,226.7 L299.6,226.6 L301.4,226.5 L303.2,226.4 L305.0,226.3 L306.8,226.2 L308.6,226.1 L310.4,226.0 L312.2,225.9 L314.0,225.8 L315.8,225.7 L317.6,225.6 L319.4,225.5 L321.2,225.4 L323.0,225.2 L324.8,225.1 L326.6,225.0 L328.4,224.9 L330.2,224.8 L331.9,224.7 L333.7,224.6 L335.5,224.4 L337.3,224.3 L339.1,224.2 L340.9,224.1 L342.7,224.0 L344.5,223.9 L346.3,223.7 L348.1,223.6 L349.9,223.5 L351.7,223.4 L353.5,223.3 L355.3,223.1 L357.1,223.0 L358.9,222.9 L360.7,222.8 L362.5,222.7 L364.3,222.5 L366.1,222.4 L367.9,222.3 L369.7,222.2 L371.5,222.1 L373.3,221.9 L375.1,221.8 L376.9,221.7 L378.6,221.6 L380.4,221.5 L382.2,221.3 L384.0,221.2 L385.8,221.1 L387.6,221.0 L389.4,220.9 L391.2,220.7 L393.0,220.6 L394.8,220.5 L396.6,220.4 L398.4,220.3 L400.2,220.1 L402.0,220.0 L403.8,219.9 L405.6,219.8 L407.4,219.7 L409.2,219.6 L411.0,219.4 L412.8,219.3 L414.6,219.2 L416.4,219.1 L418.2,219.0 L420.0,218.9 L421.8,218.7 L423.5,218.6 L425.3,218.5 L427.1,218.4 L428.9,218.3 L430.7,218.2 L432.5,218.1 L434.3,217.9 L436.1,217.8 L437.9,217.7 L439.7,217.6 L441.5,217.5 L443.3,217.4 L445.1,217.3 L446.9,217.2 L448.7,217.0 L450.5,216.9 L452.3,216.8 L454.1,216.7 L455.9,216.6 L457.7,216.5 L459.5,216.4 L461.3,216.3 L463.1,216.2 L464.9,216.1 L466.7,216.0 L468.5,215.8 L470.3,215.7 L472.1,215.6 L473.9,215.5 L475.6,215.4 L477.4,215.3 L479.2,215.2 L481.0,215.1 L482.8,215.0 L484.6,214.9 L484.7,214.9" fill="none" stroke="#4646a4" stroke-width="1.25" stroke-linejoin="round"/>
<line x1="69.17" y1="69" x2="69.17" y2="485" stroke="#7a7a7a" stroke-width="1.66"/>
<line x1="68.2" y1="170.4" x2="485" y2="170.4" stroke="#383838" stroke-width="1.3"/>
</svg>
</body></html>
